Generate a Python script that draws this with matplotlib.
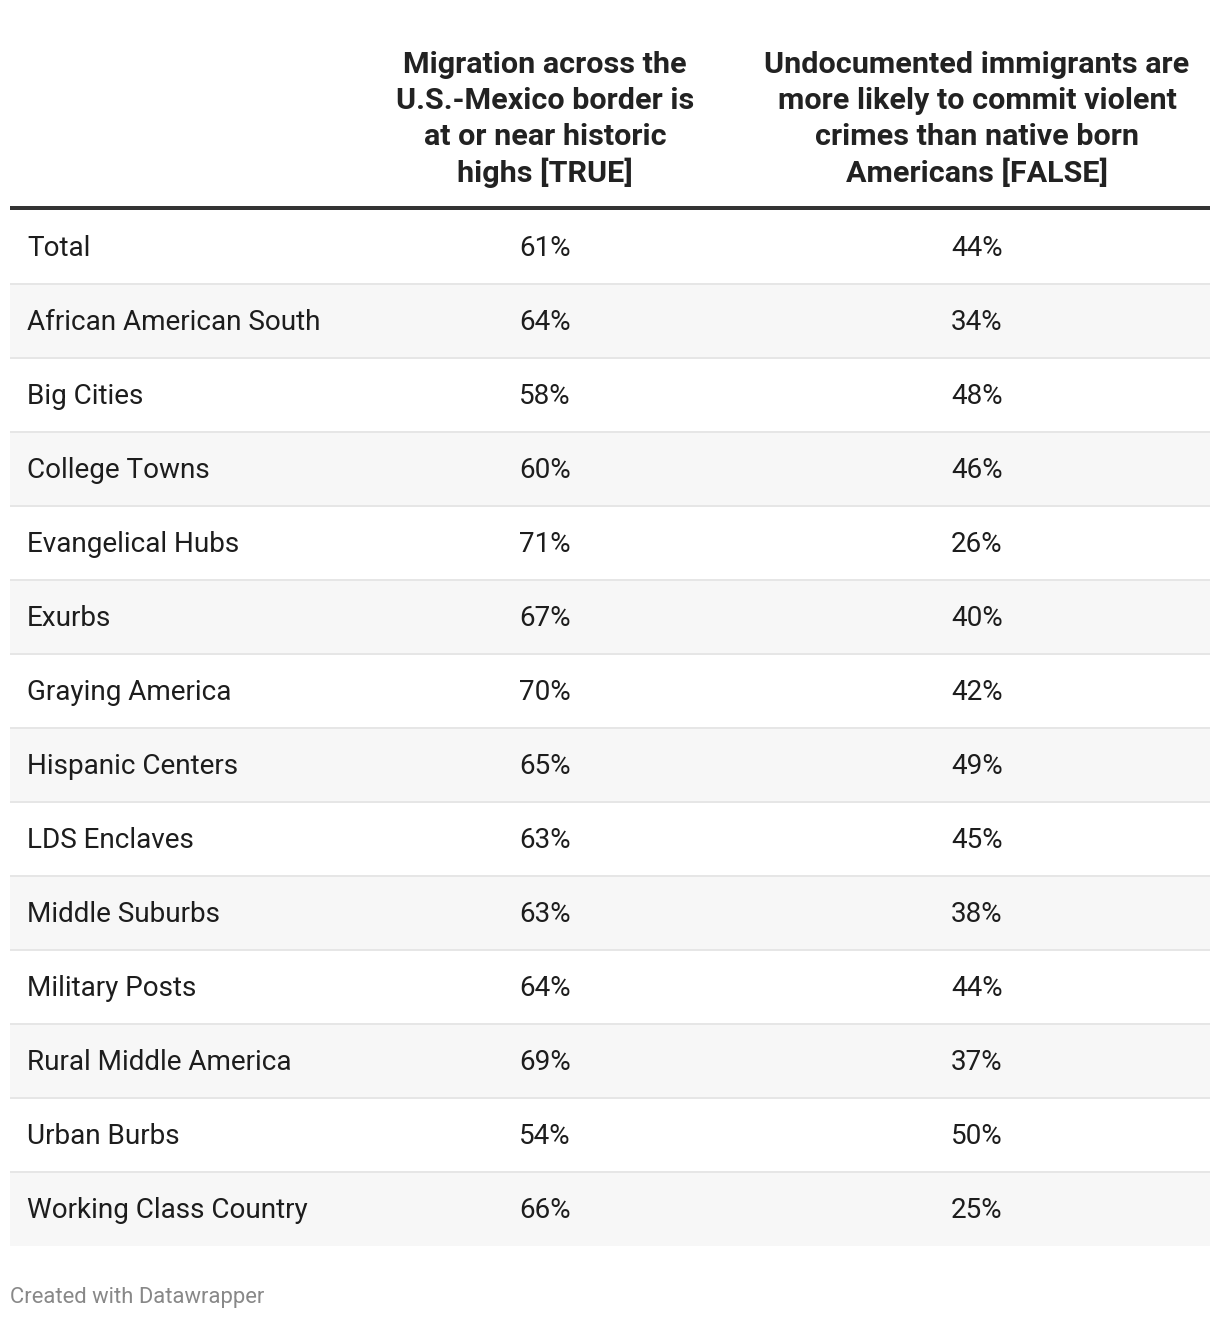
import matplotlib.pyplot as plt
from matplotlib.patches import Rectangle

# table data
groups = ["Total", "African American South", "Big Cities", "College Towns",
          "Evangelical Hubs", "Exurbs", "Graying America", "Hispanic Centers",
          "LDS Enclaves", "Middle Suburbs", "Military Posts",
          "Rural Middle America", "Urban Burbs", "Working Class Country"]
migration_true = [61, 64, 58, 60, 71, 67, 70, 65, 63, 63, 64, 69, 54, 66]
crime_false = [44, 34, 48, 46, 26, 40, 42, 49, 45, 38, 44, 37, 50, 25]

header_1 = ["Migration across the", "U.S.-Mexico border is",
            "at or near historic", "highs [TRUE]"]
header_2 = ["Undocumented immigrants are", "more likely to commit violent",
            "crimes than native born", "Americans [FALSE]"]

W, H = 1220, 1320
px = 72 / 100  # pixel -> points at dpi 100

fig = plt.figure(figsize=(W / 100, H / 100), dpi=100)
ax = fig.add_axes([0, 0, 1, 1])
ax.set_xlim(0, W)
ax.set_ylim(H, 0)
ax.axis("off")

left, right = 10, 1210
col_x = [545, 977]
top = 210
row_h = 74

# header
for i, (a, b) in enumerate(zip(header_1, header_2)):
    y = 65 + 36 * i
    ax.text(col_x[0], y, a, ha="center", va="center", family="Roboto",
            fontweight="bold", fontsize=30.5 * px, color="#222222")
    ax.text(col_x[1], y, b, ha="center", va="center", family="Roboto",
            fontweight="bold", fontsize=30.5 * px, color="#222222")
ax.plot([left, right], [208, 208], color="#333333", lw=4 * px,
        solid_capstyle="butt")

# rows
for i, g in enumerate(groups):
    y0 = top + i * row_h
    if i % 2 == 1:
        ax.add_patch(Rectangle((left, y0), right - left, row_h,
                               facecolor="#f7f7f7", edgecolor="none", zorder=0))
    if i > 0:
        ax.plot([left, right], [y0, y0], color="#e6e6e6", lw=2 * px,
                solid_capstyle="butt", zorder=1)
    yc = y0 + row_h / 2 + 2
    ax.text(27, yc, g, ha="left", va="center", family="Roboto",
            fontsize=27.9 * px, color="#1d1d1d")
    ax.text(col_x[0], yc, f"{migration_true[i]}%", ha="center", va="center",
            family="Roboto", fontsize=27.9 * px, color="#1d1d1d")
    ax.text(col_x[1], yc, f"{crime_false[i]}%", ha="center", va="center",
            family="Roboto", fontsize=27.9 * px, color="#1d1d1d")

ax.text(10, 1297, "Created with Datawrapper", ha="left", va="center",
        family="Roboto", fontsize=22 * px, color="#888888")

fig.savefig("out.png", dpi=100, facecolor="white")
